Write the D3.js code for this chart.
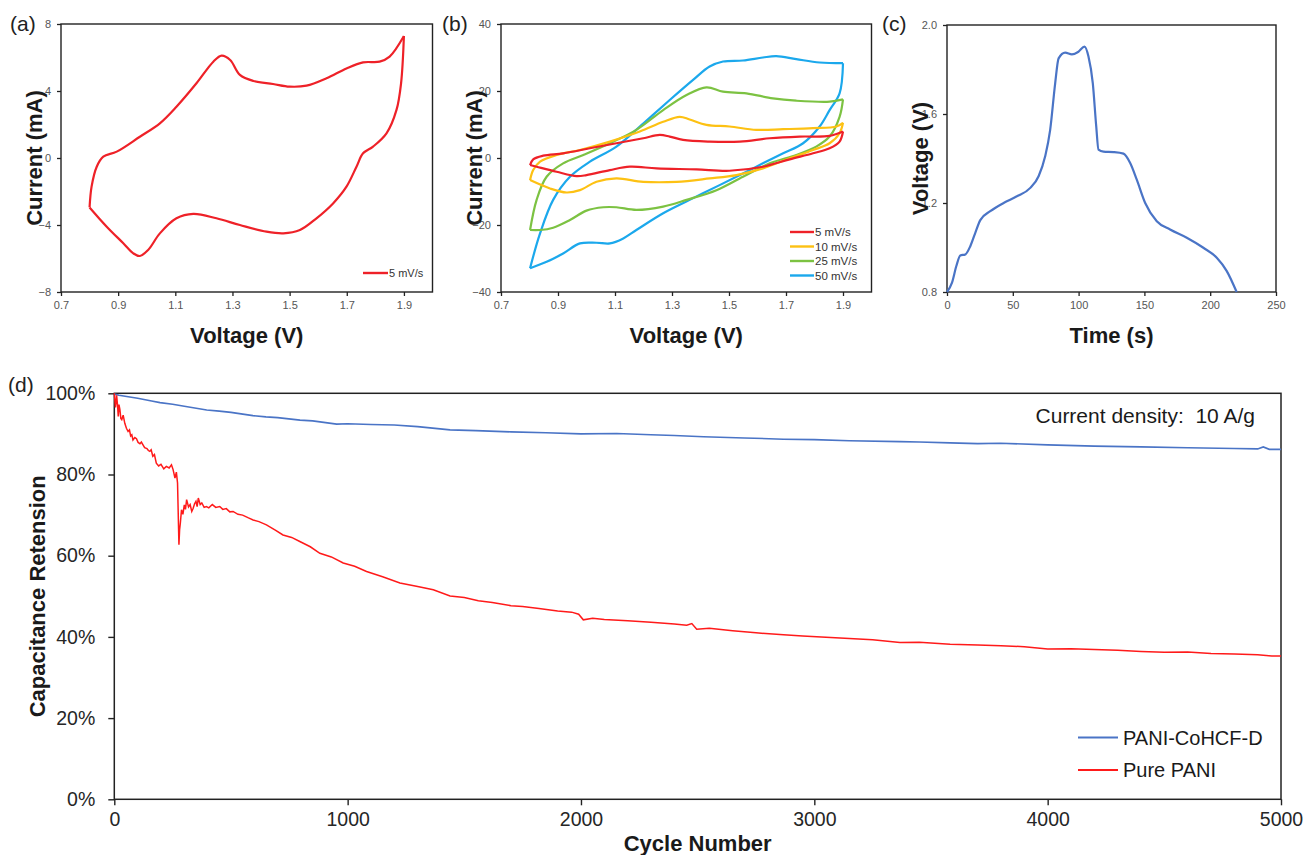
<html>
<head>
<meta charset="utf-8">
<script src="https://d3js.org/d3.v7.min.js"></script>
<style>
  body { margin: 0; background: #fff; }
  text { font-family: "Liberation Sans", Arial, sans-serif; }
</style>
</head>
<body>
<script>
// (a) CV loop at 5 mV/s  [voltage V, current mA]
var cvA = [[0.8,-2.95],[0.807,-1.71],[0.825,-0.52],[0.848,0.08],[0.895,0.38],[0.976,1.27],[1.046,2.07],[1.104,3.06],
  [1.174,4.46],[1.233,5.75],[1.262,6.11],[1.292,5.85],[1.326,4.96],[1.373,4.6],[1.442,4.42],[1.5,4.26],[1.559,4.32],
  [1.629,4.76],[1.699,5.35],[1.757,5.71],[1.815,5.75],[1.85,6.05],[1.9,7.28],[1.89,4.46],[1.874,2.87],[1.839,1.47],
  [1.792,0.68],[1.757,0.28],[1.734,-0.52],[1.699,-1.71],[1.652,-2.71],[1.594,-3.6],[1.536,-4.3],[1.478,-4.5],
  [1.419,-4.4],[1.326,-4.0],[1.244,-3.6],[1.163,-3.34],[1.104,-3.6],[1.046,-4.5],[1.005,-5.49],[0.976,-5.85],
  [0.953,-5.69],[0.918,-5.09],[0.86,-4.1],[0.8,-2.95]];

// (b) CV loops at several scan rates
var cv5 = [[0.802,-2.1],[0.813,-0.4],[0.848,0.7],[0.918,1.4],[1.012,2.9],[1.105,4.4],[1.199,5.9],[1.257,6.9],[1.292,6.4],
  [1.339,5.4],[1.432,4.9],[1.538,4.9],[1.643,5.9],[1.748,6.4],[1.853,6.6],[1.9,7.9],[1.888,4.9],[1.853,2.9],[1.795,1.4],
  [1.713,-0.4],[1.619,-2.6],[1.502,-3.8],[1.386,-3.4],[1.246,-3.1],[1.152,-2.6],[1.082,-3.6],[1.0,-5.1],[0.965,-5.4],
  [0.895,-4.1],[0.825,-2.6],[0.802,-2.1]];
var cv10 = [[0.802,-6.6],[0.813,-3.6],[0.837,-1.1],[0.895,0.9],[0.977,2.4],[1.082,4.9],[1.187,7.9],[1.269,10.8],[1.327,12.3],
  [1.362,11.5],[1.421,9.9],[1.502,9.4],[1.596,8.4],[1.69,8.6],[1.795,8.9],[1.877,9.4],[1.9,10.5],[1.888,7.4],[1.853,4.4],
  [1.795,2.4],[1.713,-0.1],[1.619,-3.1],[1.526,-5.1],[1.432,-6.1],[1.316,-7.1],[1.199,-7.1],[1.105,-6.1],[1.035,-7.1],
  [0.977,-9.6],[0.93,-10.3],[0.872,-9.1],[0.802,-6.6]];
var cv25 = [[0.802,-21.5],[0.825,-12.5],[0.86,-5.6],[0.918,-1.6],[0.989,0.9],[1.082,4.4],[1.175,8.4],[1.269,14.3],[1.351,18.8],
  [1.421,21.1],[1.479,19.8],[1.561,19.3],[1.654,17.8],[1.736,17.1],[1.853,16.8],[1.9,17.5],[1.888,12.3],[1.853,6.4],
  [1.806,3.4],[1.736,0.9],[1.643,-1.6],[1.549,-5.6],[1.456,-9.6],[1.351,-12.5],[1.269,-14.5],[1.175,-15.5],[1.105,-14.7],
  [1.059,-14.7],[1.0,-15.7],[0.942,-18.5],[0.883,-20.8],[0.837,-21.5],[0.802,-21.5]];
var cv50 = [[0.802,-32.9],[0.837,-22.5],[0.883,-12.5],[0.942,-5.6],[1.012,-1.1],[1.105,3.4],[1.199,10.3],[1.292,17.3],
  [1.374,23.3],[1.432,27.3],[1.479,28.8],[1.549,29.1],[1.619,30.0],[1.666,30.4],[1.736,29.5],[1.818,28.5],[1.9,28.3],
  [1.888,19.3],[1.853,14.3],[1.818,9.4],[1.76,4.4],[1.69,1.4],[1.619,-1.6],[1.549,-4.6],[1.467,-8.1],[1.362,-12.5],
  [1.269,-16.5],[1.175,-21.5],[1.129,-24],[1.082,-25.5],[1.035,-25.3],[0.977,-25.5],[0.918,-28.5],[0.86,-31],[0.802,-32.9]];
var rateLabels = ["5 mV/s", "10 mV/s", "25 mV/s", "50 mV/s"];

// (c) charge-discharge
var gcdTime = [0,3.8,7.1,10.1,13.9,17.7,21.5,25.3,32.9,43,53.1,63.3,69.6,74.6,78.4,82.2,84.8,89.8,94.9,99.9,104.5,107.5,
  110.8,113.4,115.1,118.9,126.5,134.1,139.2,144.2,150.6,159.4,169.5,182.2,194.8,205,212.6,220.1];
var gcdVolt = [0.8,0.842,0.917,0.964,0.969,1.006,1.066,1.123,1.163,1.2,1.23,1.268,1.32,1.41,1.529,1.738,1.85,1.876,1.868,
  1.88,1.903,1.858,1.738,1.544,1.44,1.431,1.429,1.422,1.38,1.305,1.2,1.118,1.081,1.044,0.999,0.954,0.894,0.8];

// (d) cycling stability
var dopedCycles = [0,20,53,100,160,196,250,300,396,450,500,594,650,700,796,850,953,1000,1100,1200,1300,1439,1550,1700,
  1850,2000,2153,2300,2400,2525,2700,2868,3000,3150,3367,3450,3582,3700,3797,4000,4200,4400,4600,4800,4900,4924,4950,5000];
var dopedPct = [99.8,99.5,99.2,98.8,98.1,97.7,97.3,96.8,95.9,95.6,95.3,94.5,94.2,94.0,93.4,93.2,92.4,92.5,92.3,92.2,91.8,
  91.0,90.8,90.5,90.3,90.0,90.1,89.8,89.6,89.3,89.0,88.7,88.6,88.3,88.1,88.0,87.8,87.6,87.7,87.3,87.0,86.8,86.6,86.4,
  86.3,86.8,86.2,86.2];
var pureCycles = [0,5,8,10,14,17,20,24,28,32,38,45,52,59,65,70,75,80,88,95,102,110,116,123,130,140,146,152,158,165,172,
  180,190,200,212,223,235,245,252,260,266,271,277,280,283,288,294,300,305,310,318,325,332,338,344,350,355,360,368,375,
  385,395,405,420,435,452,465,480,495,509,530,550,575,595,620,652,690,723,760,795,840,881,930,981,1030,1081,1150,1224,
  1300,1367,1439,1500,1560,1620,1700,1750,1820,1900,1960,1990,2010,2050,2100,2200,2300,2400,2453,2475,2496,2550,2650,
  2750,2868,2950,3050,3150,3250,3367,3450,3582,3700,3800,3900,4000,4100,4200,4300,4400,4500,4600,4700,4800,4900,4960,5000];
var purePct = [100,96.5,98.2,99.5,97.0,94.3,97.2,96,93.8,93.5,94.6,92.6,91.4,90.6,91.0,89.5,89.8,88.5,89.1,88.8,87.9,87.6,
  88.0,87.3,86.6,86.4,85.9,85.7,86.1,84.5,84.9,82.8,82.1,82.5,81.4,82,81.6,82.4,81.2,79.1,80.6,77.9,62.7,66.5,68,71.3,
  70.2,72.5,71.4,73.8,72.0,72.6,70.9,71.7,72.8,73.4,72.1,74.2,72.6,73,71.9,72.1,71.8,72.6,71.9,72.1,71.4,71.6,70.8,70.9,
  70.2,70,69.3,68.8,68.4,67.6,66.3,65.1,64.5,63.5,62.2,60.6,59.7,58.2,57.4,56.1,54.8,53.3,52.4,51.6,50.1,49.7,48.9,
  48.5,47.7,47.5,47.0,46.4,46.1,45.6,44.2,44.6,44.3,44.0,43.6,43.2,42.9,43.3,41.9,42.1,41.5,41.0,40.5,40.2,39.9,39.6,
  39.3,38.6,38.7,38.2,38.0,37.8,37.6,37.0,37.1,36.9,36.7,36.4,36.2,36.3,35.9,35.8,35.6,35.3,35.3];
var seriesNames = ["PANI-CoHCF-D", "Pure PANI"];

var cvTicks = [0.7, 0.9, 1.1, 1.3, 1.5, 1.7, 1.9];

var svg = d3.select("body").append("svg").attr("width", 1304).attr("height", 855);

// small panel helper: frame + axes
function smallPanel(box, xDom, yDom, xTicks, yTicks, xFmt, yFmt, xTitle, yTitle, tag, tagX) {
  var x = d3.scaleLinear().domain(xDom).range([box.l, box.r]);
  var y = d3.scaleLinear().domain(yDom).range([box.b, box.t]);
  var gx = svg.append("g").attr("transform", "translate(0," + box.b + ")")
    .call(d3.axisBottom(x).tickValues(xTicks).tickFormat(xFmt).tickSize(4).tickSizeOuter(0).tickPadding(5));
  var gy = svg.append("g").attr("transform", "translate(" + box.l + ",0)")
    .call(d3.axisLeft(y).tickValues(yTicks).tickFormat(yFmt).tickSize(4).tickSizeOuter(0).tickPadding(6));
  [gx, gy].forEach(function(g){
    g.select(".domain").remove();
    g.selectAll("line").attr("stroke", "#222").attr("stroke-width", 1.3);
    g.selectAll("text").attr("fill", "#555").style("font-size", "11px");
  });
  svg.append("rect").attr("x", box.l).attr("y", box.t).attr("width", box.r - box.l).attr("height", box.b - box.t)
    .attr("fill", "none").attr("stroke", "#222").attr("stroke-width", 1.4);
  svg.append("text").attr("x", (box.l + box.r) / 2).attr("y", 343).attr("text-anchor", "middle")
    .style("font-size", "22px").style("font-weight", "bold").attr("fill", "#1a1a1a").text(xTitle);
  svg.append("text").attr("transform", "translate(" + (box.l - 19) + "," + ((box.t + box.b) / 2) + ") rotate(-90)")
    .attr("text-anchor", "middle").style("font-size", "22px").style("font-weight", "bold").attr("fill", "#1a1a1a").text(yTitle);
  svg.append("text").attr("x", tagX).attr("y", 31).style("font-size", "21px").attr("fill", "#222").text(tag);
  return {x: x, y: y};
}

// draw a CV loop as two branches so the turning points stay sharp
function drawLoop(s, data, color) {
  var turn = d3.maxIndex(data, function(d){ return d[0]; });
  var ln = d3.line().x(function(d){ return s.x(d[0]); }).y(function(d){ return s.y(d[1]); }).curve(d3.curveCatmullRom.alpha(0.5));
  [data.slice(0, turn + 1), data.slice(turn)].forEach(function(part){
    svg.append("path").attr("d", ln(part)).attr("fill", "none").attr("stroke", color)
      .attr("stroke-width", 2.2).attr("stroke-linejoin", "round");
  });
}

// ---- (a)
var A = smallPanel({l: 61, r: 432.5, t: 24, b: 292}, [0.7, 2.0], [-8, 8], cvTicks, [-8, -4, 0, 4, 8],
  d3.format(".1f"), d3.format("d"), "Voltage (V)", "Current (mA)", "(a)", 10);
drawLoop(A, cvA, "#ee2128");
svg.append("line").attr("x1", 363).attr("x2", 388).attr("y1", 273).attr("y2", 273).attr("stroke", "#ee2128").attr("stroke-width", 2.4);
svg.append("text").attr("x", 389).attr("y", 277).style("font-size", "11px").attr("fill", "#333").text("5 mV/s");

// ---- (b)
var B = smallPanel({l: 501, r: 871.5, t: 24, b: 292}, [0.7, 2.0], [-40, 40], cvTicks, [-40, -20, 0, 20, 40],
  d3.format(".1f"), d3.format("d"), "Voltage (V)", "Current (mA)", "(b)", 442);
var cvSets = [cv5, cv10, cv25, cv50];
var cvColors = ["#ee2128", "#fdc113", "#7cc242", "#1ba8ec"];
[3, 2, 1, 0].forEach(function(i){ drawLoop(B, cvSets[i], cvColors[i]); });
rateLabels.forEach(function(lab, i){
  var yy = 232 + i * 14.5;
  svg.append("line").attr("x1", 790).attr("x2", 814).attr("y1", yy).attr("y2", yy).attr("stroke", cvColors[i]).attr("stroke-width", 2.4);
  svg.append("text").attr("x", 815).attr("y", yy + 4).style("font-size", "11.5px").attr("fill", "#333").text(lab);
});

// ---- (c)
var C = smallPanel({l: 947, r: 1276, t: 25, b: 292}, [0, 250], [0.8, 2.0], [0, 50, 100, 150, 200, 250], [0.8, 1.2, 1.6, 2.0],
  d3.format("d"), d3.format(".1f"), "Time (s)", "Voltage (V)", "(c)", 882);
var gcd = gcdTime.map(function(t, i){ return [t, gcdVolt[i]]; });
svg.append("path").attr("d", d3.line().x(function(d){ return C.x(d[0]); }).y(function(d){ return C.y(d[1]); })
  .curve(d3.curveMonotoneX)(gcd)).attr("fill", "none").attr("stroke", "#4a74c6").attr("stroke-width", 2.2);

// ---- (d)
var dBox = {l: 114.3, r: 1281, t: 393.3, b: 799.3};
var xD = d3.scaleLinear().domain([0, 5000]).range([dBox.l, dBox.r]);
var yD = d3.scaleLinear().domain([0, 1]).range([dBox.b, dBox.t]);
var gxD = svg.append("g").attr("transform", "translate(0," + dBox.b + ")")
  .call(d3.axisBottom(xD).tickValues([0, 1000, 2000, 3000, 4000, 5000]).tickFormat(d3.format("d")).tickSize(6).tickSizeOuter(0).tickPadding(7));
var gyD = svg.append("g").attr("transform", "translate(" + dBox.l + ",0)")
  .call(d3.axisLeft(yD).tickValues([0, 0.2, 0.4, 0.6, 0.8, 1]).tickFormat(d3.format(".0%")).tickSize(6).tickSizeOuter(0).tickPadding(13));
[gxD, gyD].forEach(function(g){
  g.select(".domain").remove();
  g.selectAll("line").attr("stroke", "#222").attr("stroke-width", 1.4);
  g.selectAll("text").attr("fill", "#262626").style("font-size", "19.5px");
});
svg.append("rect").attr("x", dBox.l).attr("y", dBox.t).attr("width", dBox.r - dBox.l).attr("height", dBox.b - dBox.t)
  .attr("fill", "none").attr("stroke", "#222").attr("stroke-width", 1.5);

var lineD = d3.line().x(function(d){ return xD(d[0]); }).y(function(d){ return yD(d[1] / 100); });
var doped = dopedCycles.map(function(c, i){ return [c, dopedPct[i]]; });
var pure = pureCycles.map(function(c, i){ return [c, purePct[i]]; });
svg.append("path").attr("d", lineD(doped)).attr("fill", "none").attr("stroke", "#4a74c6").attr("stroke-width", 1.6);
svg.append("path").attr("d", lineD(pure)).attr("fill", "none").attr("stroke", "#ff1a1a").attr("stroke-width", 1.5);

svg.append("text").attr("x", 1255).attr("y", 423).attr("text-anchor", "end").style("font-size", "21px").attr("fill", "#1a1a1a")
  .attr("xml:space", "preserve").text("Current density:  10 A/g");
var dColors = ["#4a74c6", "#ff1a1a"];
seriesNames.forEach(function(n, i){
  var yy = 737.5 + i * 32.5;
  svg.append("line").attr("x1", 1078).attr("x2", 1118).attr("y1", yy).attr("y2", yy).attr("stroke", dColors[i]).attr("stroke-width", 1.8);
  svg.append("text").attr("x", 1123).attr("y", yy + 7).style("font-size", "20px").attr("fill", "#1a1a1a").text(n);
});
svg.append("text").attr("x", (dBox.l + dBox.r) / 2).attr("y", 851).attr("text-anchor", "middle")
  .style("font-size", "22px").style("font-weight", "bold").attr("fill", "#1a1a1a").text("Cycle Number");
svg.append("text").attr("transform", "translate(45," + ((dBox.t + dBox.b) / 2) + ") rotate(-90)").attr("text-anchor", "middle")
  .style("font-size", "22px").style("font-weight", "bold").attr("fill", "#1a1a1a").text("Capacitance Retension");
svg.append("text").attr("x", 8).attr("y", 392).style("font-size", "21px").attr("fill", "#222").text("(d)");
</script>
</body>
</html>
